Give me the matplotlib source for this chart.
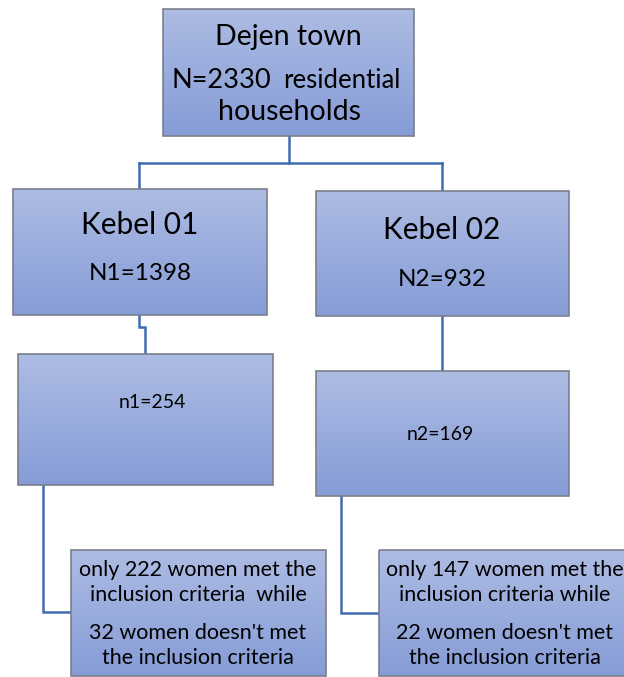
import numpy as np
import matplotlib
matplotlib.use("Agg")
import matplotlib.pyplot as plt
from matplotlib.patches import Rectangle

plt.rcParams['font.family'] = ['Lato', 'DejaVu Sans']

# ---- data ----
town_name = "Dejen town"
town_total = 2330
kebele_names = ["Kebel 01", "Kebel 02"]
kebele_totals = [1398, 932]
sample_sizes = [254, 169]
met_criteria = [222, 147]
not_met = [32, 22]

# ---- layout (pixel space) ----
W, H = 624, 677
fig = plt.figure(figsize=(W / 100, H / 100), dpi=100)
ax = fig.add_axes([0, 0, 1, 1])
ax.set_xlim(0, W)
ax.set_ylim(H, 0)
ax.axis('off')

top_c = np.array([0.678, 0.737, 0.890])
bot_c = np.array([0.525, 0.612, 0.843])
grad = np.linspace(0, 1, 128)[:, None, None]
img = top_c[None, None, :] * (1 - grad) + bot_c[None, None, :] * grad

def box(x0, y0, x1, y1):
    ax.imshow(img, extent=(x0, x1, y1, y0), aspect='auto', zorder=2,
              interpolation='bilinear')
    ax.add_patch(Rectangle((x0, y0), x1 - x0, y1 - y0, fill=False,
                           ec='#7a7f8c', lw=1.2, zorder=3))

line_c = '#3f6cb0'
def path(xs, ys):
    ax.plot(xs, ys, color=line_c, lw=1.8, zorder=1, solid_joinstyle='miter')

# connectors
path([289, 289], [136, 163])
path([139, 442], [163, 163])
path([139, 139], [163, 190])
path([442, 442], [163, 191])
path([139, 139, 145, 145], [315, 327, 327, 355])
path([442, 442], [316, 371])
path([43, 43, 71], [485, 612, 612])
path([341, 341, 379], [496, 613, 613])

# boxes
box(163, 9, 414, 136)
box(13, 189, 267, 315)
box(316, 191, 569, 316)
box(18, 354, 273, 485)
box(316, 371, 569, 496)
box(71, 550, 326, 676)
box(379, 550, 640, 676)

# text
ax.text(288, 37, town_name, ha='center', va='center', fontsize=20.5, zorder=4)
ax.text(271, 80, f"N={town_total}", ha='right', va='center', fontsize=19.5, zorder=4)
ax.text(283, 81, "residential", ha='left', va='center', fontsize=18.5, zorder=4)
ax.text(289, 112, "households", ha='center', va='center', fontsize=20.5, zorder=4)

kx = [140, 442]
for i in range(2):
    ax.text(kx[i], 225 + 5 * i, kebele_names[i], ha='center', va='center', fontsize=21.5, zorder=4)
    ax.text(kx[i], 274 + 5 * i, f"N{i+1}={kebele_totals[i]}", ha='center', va='center', fontsize=17.5, zorder=4)

ax.text(152, 402, f"n1={sample_sizes[0]}", ha='center', va='center', fontsize=14, zorder=4)
ax.text(440, 435, f"n2={sample_sizes[1]}", ha='center', va='center', fontsize=14, zorder=4)

bx = [198, 505]
extra = [" ", ""]
for i in range(2):
    ax.text(bx[i], 570, f"only {met_criteria[i]} women met the", ha='center', va='center', fontsize=15.5, zorder=4)
    ax.text(bx[i], 595, f"inclusion criteria {extra[i]}while", ha='center', va='center', fontsize=15.5, zorder=4)
    ax.text(bx[i], 633, f"{not_met[i]} women doesn't met", ha='center', va='center', fontsize=15.5, zorder=4)
    ax.text(bx[i], 658, "the inclusion criteria", ha='center', va='center', fontsize=15.5, zorder=4)

fig.savefig("out.png", dpi=100, facecolor='white')
